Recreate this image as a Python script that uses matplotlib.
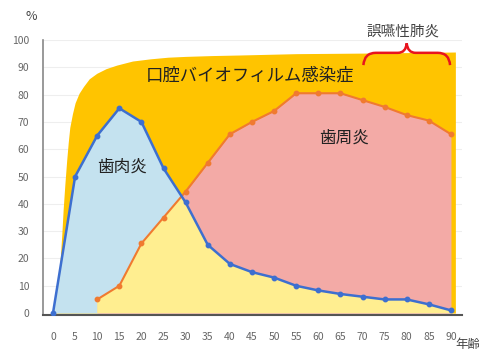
import matplotlib.pyplot as plt
from matplotlib.path import Path
from matplotlib.patches import PathPatch
import numpy as np

plt.rcParams['font.family'] = ['Noto Sans CJK JP', 'DejaVu Sans']

# prevalence by age (%)
ages = [0, 5, 10, 15, 20, 25, 30, 35, 40, 45, 50, 55, 60, 65, 70, 75, 80, 85, 90]
gingivitis = [0, 50, 65, 75, 70, 53, 40.5, 25, 18, 15, 13, 10, 8.3, 7, 6, 5, 5, 3.2, 1]

perio_ages = [10, 15, 20, 25, 30, 35, 40, 45, 50, 55, 60, 65, 70, 75, 80, 85, 90]
periodontitis = [5, 10, 25.5, 35, 44.5, 55, 65.5, 70, 74, 80.5, 80.5, 80.5, 78, 75.5, 72.5, 70.5, 65.5]

# outline of the biofilm infection envelope
biofilm_x = [0, 0.6, 1.0, 1.3, 1.6, 2.0, 2.3, 2.7, 3.1, 3.45, 3.8, 4.4, 5.0, 5.9, 6.9,
             8.2, 9.9, 12, 14.4, 18, 22, 26, 30, 36, 42, 55, 70, 91]
biofilm_y = [0, 4, 7, 12.5, 19, 29, 38, 47.5, 56, 62.5, 68, 73, 77, 80.5, 83,
             85.8, 87.8, 89.5, 90.8, 92.3, 93.1, 93.7, 94, 94.3, 94.5, 95, 95.2, 95.6]

fig = plt.figure(figsize=(4.79, 3.61), dpi=100)
ax = fig.add_axes([43 / 479, 1 - 315 / 361, 419 / 479, 275 / 361])
ax.set_xlim(-2.26, 92.5)
ax.set_ylim(-0.7, 100)

for yv in range(10, 101, 10):
    ax.axhline(yv, color='#eeeeee', lw=0.8, zorder=0)

ax.fill_between(biofilm_x, 0, biofilm_y, color='#ffc400', lw=0, zorder=1)
ax.fill_between(ages, 0, gingivitis, color='#c4e2ef', lw=0, zorder=2)
pink = ax.fill_between(perio_ages, 0, periodontitis, color='#f3aaa6', lw=0, zorder=3)
# overlap of both diseases: under the blue curve and inside the pink area
overlap = ax.fill_between(ages, 0, gingivitis, color='#ffee90', lw=0, zorder=4)
pink_path = pink.get_paths()[0]
overlap.set_clip_path(pink_path, ax.transData)

ax.plot(perio_ages, periodontitis, color='#f07a30', lw=1.5, marker='o', ms=3.2, zorder=5)
ax.plot(ages, gingivitis, color='#3d6fd0', lw=1.8, marker='o', ms=3.2, zorder=6)

ax.text(44.6, 87, '口腔バイオフィルム感染症', fontsize=12.5, color='#222222',
        ha='center', va='center', zorder=7)
ax.text(15.6, 53.5, '歯肉炎', fontsize=12, color='#222222', ha='center', va='center', zorder=7)
ax.text(65.8, 64, '歯周炎', fontsize=12, color='#222222', ha='center', va='center', zorder=7)
ax.text(79.2, 103, '誤嚥性肺炎', fontsize=10.5, color='#444444', ha='center', va='center',
        clip_on=False)
ax.text(-4.95, 108.5, '%', fontsize=9, color='#444444', ha='center', va='center', clip_on=False)
ax.text(91, -11.4, '年齢', fontsize=9, color='#444444', ha='left', va='center', clip_on=False)

# curly brace over the elderly range
verts = [(70.2, 90.8), (70.4, 95.3), (73, 95.3), (78, 95.3), (79.8, 95.3), (80, 98.8),
         (80.2, 95.3), (82, 95.3), (87, 95.3), (89.6, 95.3), (89.8, 90.8)]
codes = [Path.MOVETO, Path.CURVE3, Path.CURVE3, Path.LINETO, Path.CURVE3, Path.CURVE3,
         Path.CURVE3, Path.CURVE3, Path.LINETO, Path.CURVE3, Path.CURVE3]
ax.add_patch(PathPatch(Path(verts, codes), fill=False, edgecolor='#e8141e', lw=1.8,
                       clip_on=False, zorder=8))

ax.set_xticks(ages)
ax.set_yticks(range(0, 101, 10))
ax.tick_params(length=0, labelsize=7.5, labelcolor='#666666')
ax.tick_params(axis='x', pad=12)
ax.tick_params(axis='y', pad=10)
for side in ('top', 'right'):
    ax.spines[side].set_visible(False)
ax.spines['left'].set_color('#888888')
ax.spines['left'].set_linewidth(1.2)
ax.spines['bottom'].set_color('#555555')
ax.spines['bottom'].set_linewidth(1.5)
ax.set_facecolor('white')

fig.savefig('out.png', dpi=100)
